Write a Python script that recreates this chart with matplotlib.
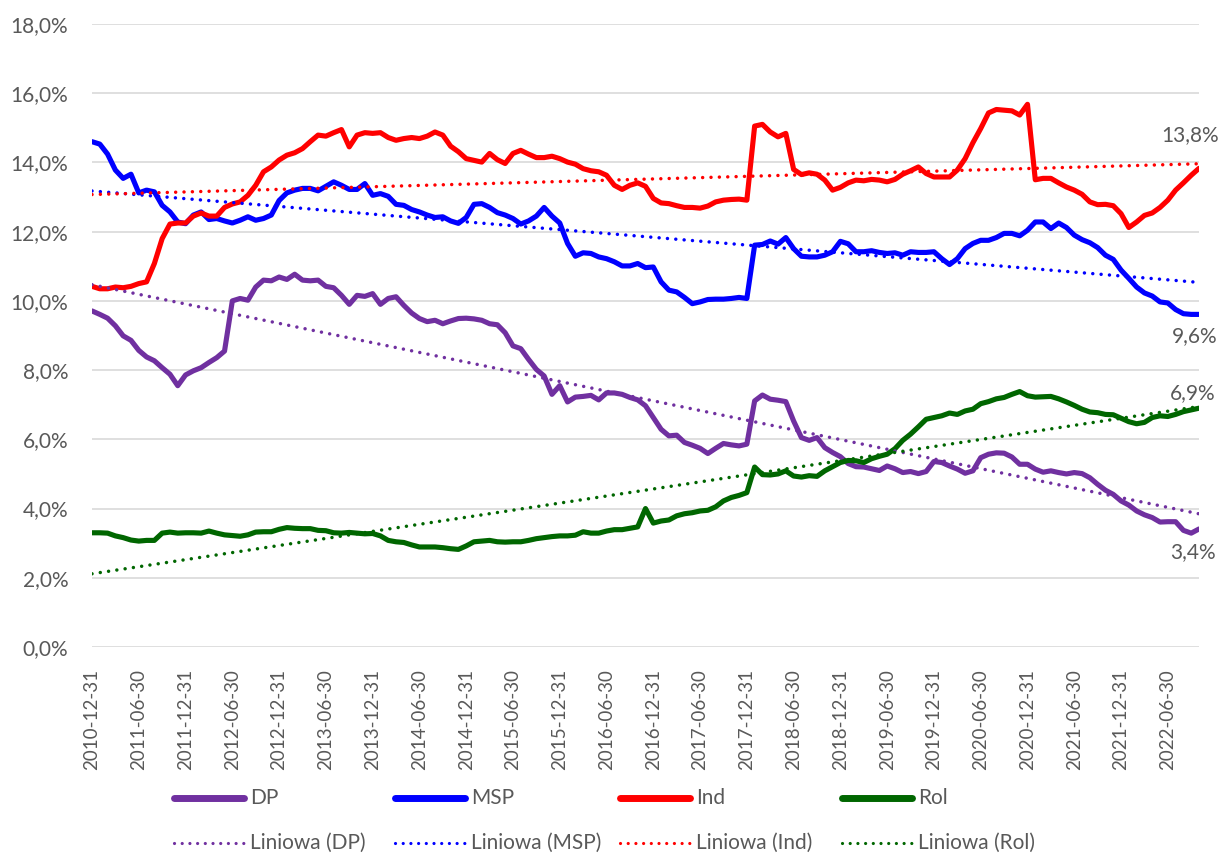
import numpy as np
import pandas as pd
import matplotlib
matplotlib.use("Agg")
import matplotlib.pyplot as plt
from matplotlib.lines import Line2D
from matplotlib.ticker import FuncFormatter

plt.rcParams["font.family"] = ["Lato", "DejaVu Sans"]

# miesięczne udziały (%) od 2010-12-31
dates = pd.date_range("2010-12-31", periods=143, freq="ME")

dp = [9.71, 9.61, 9.50, 9.28, 8.99, 8.86, 8.57, 8.38, 8.27, 8.07,
      7.88, 7.55, 7.86, 7.98, 8.07, 8.22, 8.36, 8.55, 10.00, 10.07,
      10.02, 10.40, 10.60, 10.58, 10.69, 10.62, 10.77, 10.60, 10.58, 10.60,
      10.42, 10.38, 10.16, 9.90, 10.16, 10.13, 10.21, 9.90, 10.07, 10.12,
      9.87, 9.65, 9.49,
      9.40, 9.44, 9.34, 9.42, 9.49, 9.50, 9.48, 9.44, 9.34, 9.31,
      9.08, 8.70, 8.62, 8.31, 8.02, 7.83, 7.30, 7.55, 7.08, 7.22,
      7.24, 7.27, 7.14, 7.34, 7.34, 7.30, 7.21, 7.14, 6.97, 6.63,
      6.29, 6.10, 6.12, 5.91, 5.83, 5.74, 5.59, 5.74, 5.88, 5.84,
      5.81, 5.86, 7.11, 7.28, 7.16, 7.13, 7.09, 6.53, 6.05, 5.97,
      6.05,
      5.76, 5.62, 5.50, 5.30, 5.21, 5.20, 5.15, 5.10, 5.23, 5.15,
      5.04, 5.07, 5.01, 5.07, 5.36, 5.33, 5.23, 5.14, 5.02, 5.09,
      5.47, 5.57, 5.61, 5.60, 5.49, 5.28, 5.28, 5.14, 5.05, 5.09,
      5.04, 5.00, 5.04, 5.01, 4.89, 4.70, 4.53, 4.41, 4.22, 4.10,
      3.93, 3.82, 3.74, 3.61, 3.62, 3.62, 3.37, 3.29, 3.41]

msp = [14.60, 14.53, 14.24, 13.78, 13.54, 13.66, 13.12, 13.20, 13.15, 12.76,
       12.57, 12.28, 12.23, 12.48, 12.57, 12.35, 12.38, 12.31, 12.25, 12.33,
       12.43, 12.33, 12.38, 12.48, 12.90, 13.12, 13.20, 13.25, 13.25, 13.18,
       13.31, 13.44, 13.34, 13.22, 13.22, 13.39, 13.05, 13.10, 13.02, 12.79,
       12.76, 12.64, 12.57,
       12.48, 12.41, 12.43, 12.31, 12.24, 12.41, 12.79, 12.81, 12.70, 12.55,
       12.48, 12.38, 12.22, 12.31, 12.45, 12.70, 12.45, 12.25, 11.66, 11.29,
       11.39, 11.37, 11.27, 11.22, 11.13, 11.01, 11.01, 11.08, 10.96, 10.98,
       10.55, 10.31, 10.26, 10.10, 9.92, 9.97, 10.04, 10.05, 10.05, 10.07,
       10.10, 10.07, 11.61, 11.63, 11.73, 11.64, 11.83, 11.51, 11.29, 11.27,
       11.27,
       11.32, 11.42, 11.72, 11.65, 11.42, 11.42, 11.45, 11.40, 11.37, 11.39,
       11.32, 11.42, 11.40, 11.40, 11.42, 11.22, 11.05, 11.22, 11.51, 11.66,
       11.75, 11.75, 11.83, 11.95, 11.95, 11.88, 12.04, 12.28, 12.28, 12.09,
       12.25, 12.12, 11.90, 11.77, 11.68, 11.54, 11.32, 11.20, 10.89, 10.65,
       10.40, 10.23, 10.14, 9.97, 9.94, 9.75, 9.63, 9.61, 9.61]

ind = [10.42, 10.35, 10.35, 10.40, 10.38, 10.42, 10.50, 10.55, 11.08, 11.80,
       12.22, 12.25, 12.25, 12.45, 12.54, 12.45, 12.45, 12.70, 12.80, 12.86,
       13.05, 13.34, 13.73, 13.87, 14.07, 14.21, 14.28, 14.40, 14.60, 14.79,
       14.76, 14.86, 14.95, 14.45, 14.79, 14.86, 14.84, 14.86, 14.72, 14.64,
       14.69, 14.72, 14.69,
       14.76, 14.88, 14.79, 14.47, 14.31, 14.11, 14.06, 14.01, 14.26, 14.08,
       13.97, 14.26, 14.35, 14.24, 14.14, 14.14, 14.18, 14.11, 14.01, 13.95,
       13.82, 13.76, 13.73, 13.63, 13.34, 13.22, 13.34, 13.41, 13.31, 12.96,
       12.83, 12.81, 12.75, 12.70, 12.70, 12.68, 12.74, 12.86, 12.91, 12.93,
       12.94, 12.91, 15.05, 15.10, 14.88, 14.74, 14.84, 13.80, 13.65, 13.70,
       13.66,
       13.49, 13.20, 13.28, 13.41, 13.49, 13.47, 13.51, 13.49, 13.44, 13.51,
       13.66, 13.76, 13.87, 13.68, 13.58, 13.58, 13.58, 13.78, 14.11, 14.57,
       14.98, 15.43, 15.53, 15.51, 15.49, 15.37, 15.68, 13.50, 13.54, 13.54,
       13.41, 13.29, 13.20, 13.08, 12.86, 12.78, 12.79, 12.75, 12.52, 12.12,
       12.28, 12.47, 12.54, 12.70, 12.91, 13.20, 13.41, 13.63, 13.83]

rol = [3.30, 3.30, 3.29, 3.21, 3.16, 3.09, 3.06, 3.08, 3.08, 3.29,
       3.32, 3.29, 3.30, 3.30, 3.29, 3.35, 3.29, 3.24, 3.22, 3.20,
       3.24, 3.32, 3.33, 3.33, 3.40, 3.45, 3.43, 3.42, 3.42, 3.37,
       3.36, 3.30, 3.29, 3.31, 3.29, 3.27, 3.28, 3.21, 3.08, 3.04,
       3.02, 2.95, 2.89,
       2.89, 2.89, 2.87, 2.84, 2.82, 2.92, 3.04, 3.06, 3.08, 3.04,
       3.03, 3.04, 3.04, 3.08, 3.13, 3.16, 3.19, 3.21, 3.21, 3.23,
       3.33, 3.29, 3.29, 3.35, 3.39, 3.39, 3.43, 3.47, 4.00, 3.58,
       3.64, 3.67, 3.79, 3.85, 3.88, 3.93, 3.95, 4.05, 4.22, 4.32,
       4.38, 4.46, 5.20, 4.98, 4.97, 5.00, 5.09, 4.94, 4.91, 4.95,
       4.93,
       5.09, 5.21, 5.33, 5.39, 5.38, 5.33, 5.44, 5.51, 5.57, 5.73,
       5.97, 6.15, 6.36, 6.58, 6.63, 6.68, 6.76, 6.72, 6.82, 6.87,
       7.03, 7.09, 7.17, 7.21, 7.30, 7.38, 7.26, 7.22, 7.23, 7.24,
       7.17, 7.08, 6.98, 6.87, 6.79, 6.77, 6.72, 6.71, 6.61, 6.51,
       6.45, 6.49, 6.63, 6.68, 6.66, 6.72, 6.80, 6.85, 6.90]

names = ["DP", "MSP", "Ind", "Rol"]
series = [dp, msp, ind, rol]
colors = ["#7030A0", "#0000FF", "#FF0000", "#006600"]
# przesunięcia etykiet końcowych (px)
label_off = [(-6, -23), (-4, -22), (-9, 33), (-6, 15)]

GRID = "#D9D9D9"
TXT = "#595959"
FS = 15
DOT = (0, (0.01, 2.4))

W, H = 1222, 856
fig = plt.figure(figsize=(W / 100, H / 100), dpi=100)
ax = fig.add_axes([92 / W, 1 - 647 / H, (1199 - 92) / W, (647 - 24) / H])

x = np.arange(len(dates))
for name, s, c in zip(names, series, colors):
    ax.plot(x, s, color=c, lw=3.7, solid_capstyle="round",
            solid_joinstyle="round", zorder=3)

# trendy liniowe (jak w Excelu)
for s, c in zip(series, colors):
    a, b = np.polyfit(x, s, 1)
    ax.plot(x, a * x + b, color=c, lw=2.5, linestyle=DOT,
            dash_capstyle="round", zorder=4)

for s, c, (dx, dy) in zip(series, colors, label_off):
    ax.annotate(f"{s[-1]:.1f}%".replace(".", ","), xy=(x[-1], s[-1]),
                xytext=(dx, dy), textcoords="offset pixels", ha="center",
                va="center", fontsize=FS, color=TXT, annotation_clip=False)

ax.set_xlim(0, len(dates) - 1)
ax.set_ylim(0, 18)
ax.set_yticks(np.arange(0, 19, 2))
ax.yaxis.set_major_formatter(FuncFormatter(lambda v, p: f"{v:.1f}%".replace(".", ",")))
ax.set_xticks(x[::6])
ax.set_xticklabels(dates[::6].strftime("%Y-%m-%d"), rotation=90)
ax.set_xticks(x[::12], minor=True)
ax.tick_params(axis="x", which="major", length=0, pad=16, labelsize=13.5, labelcolor=TXT)
ax.tick_params(axis="x", which="minor", length=6, width=1.2, color=GRID)
ax.tick_params(axis="y", length=0, pad=17, labelsize=FS, labelcolor=TXT)
ax.grid(axis="y", color=GRID, lw=1.2, zorder=0)
ax.grid(axis="x", which="minor", color=GRID, lw=1.2, zorder=0)
for sp in ax.spines.values():
    sp.set_visible(False)
ax.set_axisbelow(True)

# legenda w dwóch wierszach
cols = [174, 395, 620, 842]
for k, (name, c) in enumerate(zip(names, colors)):
    x0 = cols[k]
    for row_y, style, lw, label in [(798, "-", 5, name), (843, DOT, 2.3, f"Liniowa ({name})")]:
        yf = 1 - row_y / H
        ln = Line2D([x0 / W, (x0 + 70) / W], [yf, yf], color=c, lw=lw, linestyle=style,
                    solid_capstyle="round", dash_capstyle="round",
                    transform=fig.transFigure)
        fig.add_artist(ln)
        fig.text((x0 + 76) / W, yf, label, fontsize=FS, color=TXT, va="center", ha="left")

fig.savefig("out.png", dpi=100)
